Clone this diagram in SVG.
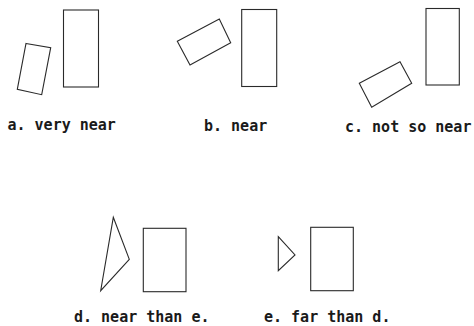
<svg xmlns="http://www.w3.org/2000/svg" width="474" height="326" viewBox="0 0 474 326">
<style>
.s{fill:none;stroke:#2a2a2a;stroke-width:1.1;stroke-linejoin:miter}
.t{font-family:"DejaVu Sans Mono","Liberation Mono",monospace;font-size:15px;font-weight:bold;fill:#1a1a1a}
</style>
<rect width="474" height="326" fill="#fff"/>
<g id="a">
<rect class="s" x="63.5" y="10" width="35" height="77"/>
<polygon class="s" points="26,43.5 50.7,47.7 41.7,94.7 17.3,89.3"/>
<text class="t" x="7.5" y="130">a. very near</text>
</g>
<g id="b">
<rect class="s" x="241.7" y="9.5" width="35" height="77"/>
<polygon class="s" points="177.3,41.3 219.3,19 230.7,42.7 190,65"/>
<text class="t" x="204" y="131">b. near</text>
</g>
<g id="c">
<rect class="s" x="426" y="8.5" width="33.3" height="76.5"/>
<polygon class="s" points="359.3,83.3 400,61.7 411.7,83.3 371.7,107.3"/>
<text class="t" x="345" y="132">c. not so near</text>
</g>
<g id="d">
<rect class="s" x="143.3" y="228.3" width="42.7" height="63.4"/>
<polygon class="s" points="113.3,217.3 129.3,259.3 100.7,290.7"/>
<text class="t" x="74" y="322">d. near than e.</text>
</g>
<g id="e">
<rect class="s" x="310.7" y="227.3" width="42.6" height="63.4"/>
<polygon class="s" points="278.3,236.7 295,255 278.3,270.7"/>
<text class="t" x="264" y="322">e. far than d.</text>
</g>
</svg>
